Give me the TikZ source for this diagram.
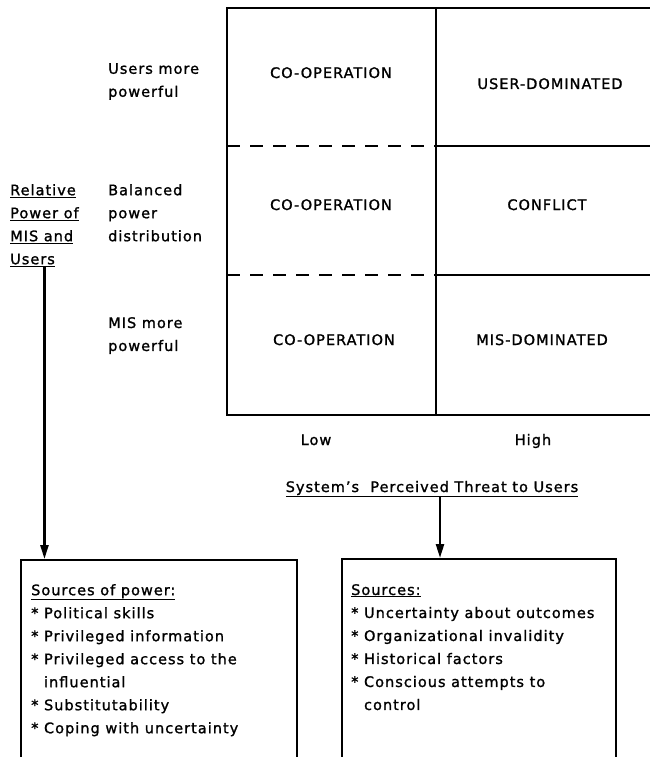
\documentclass[tikz,border=0pt]{standalone}
\usepackage{fontspec}
\setmainfont{DejaVu Sans}[LetterSpace=7,FakeBold=1.3]
\usepackage{tikz}
\usetikzlibrary{arrows.meta}

\begin{document}
\begin{tikzpicture}[x=1pt,y=-1pt,
    lbl/.style={inner sep=0pt,anchor=north west,align=left,font=\fontsize{14.5}{23}\selectfont},
    cell/.style={inner sep=0pt,anchor=base,font=\fontsize{14.5}{23}\selectfont},
    srcframe/.style={draw,line width=2.4pt,anchor=north west,minimum height=215pt,inner sep=0pt},
    arr/.style={line width=2.4pt,-{Triangle[length=14pt,width=8pt]}}]
    \useasboundingbox (0,0) rectangle (650,757);
    \draw[line width=2.4pt](227,8)rectangle(662,415);
    \draw[line width=2.4pt](436,8)--(436,415);
    \draw[line width=2.4pt,dash pattern=on 13pt off 10pt](227,146)--(436,146);
    \draw[line width=2.4pt,dash pattern=on 13pt off 10pt](227,275)--(436,275);
    \draw[line width=2.4pt](436,146)--(662,146);
    \draw[line width=2.4pt](436,275)--(662,275);
    \node[cell] (coopA) at (331,78) {CO-OPERATION};
    \node[cell] (userdom) at (550,89) {USER-DOMINATED};
    \node[cell] (coopB) at (331,210) {CO-OPERATION};
    \node[cell] (conflict) at (547,210) {CONFLICT};
    \node[cell] (coopC) at (334,345) {CO-OPERATION};
    \node[cell] (misdom) at (542,345) {MIS-DOMINATED};
    \node[lbl] (usersrow) at (108,63) {Users more\\powerful};
    \node[lbl] (balrow) at (108,184) {Balanced\\power\\distribution};
    \node[lbl] (misrow) at (108,317) {MIS more\\powerful};
    \node[lbl] (relpower) at (10,184) {\underline{Relative}\\\underline{Power of}\\\underline{MIS and}\\\underline{Users}};
    \node[cell] (low) at (316,445) {Low};
    \node[cell] (high) at (533,445) {High};
    \node[cell] (threat) at (432,492) {\underline{System's\ \ Perceived Threat to Users}};
    % riquadri delle fonti
    \node[srcframe,minimum width=276pt] (powbox) at (20,559) {};
    \node[srcframe,minimum width=274pt] (srcbox) at (341,558) {};
    \node[lbl] (powlist) at (31,584) {\underline{Sources of power:}\\
        * Political skills\\
        * Privileged information\\
        * Privileged access to the\\
        \hphantom{*\ }influential\\
        * Substitutability\\
        * Coping with uncertainty};
    \node[lbl] (srclist) at (351,584) {\underline{Sources:}\\
        * Uncertainty about outcomes\\
        * Organizational invalidity\\
        * Historical factors\\
        * Conscious attempts to\\
        \hphantom{*\ }control};
    \draw[arr](relpower.south)--(relpower.south |- powbox.north);
    \draw[arr]([xshift=8pt]threat.south)--([xshift=8pt]threat.south |- srcbox.north);
\end{tikzpicture}
\end{document}
